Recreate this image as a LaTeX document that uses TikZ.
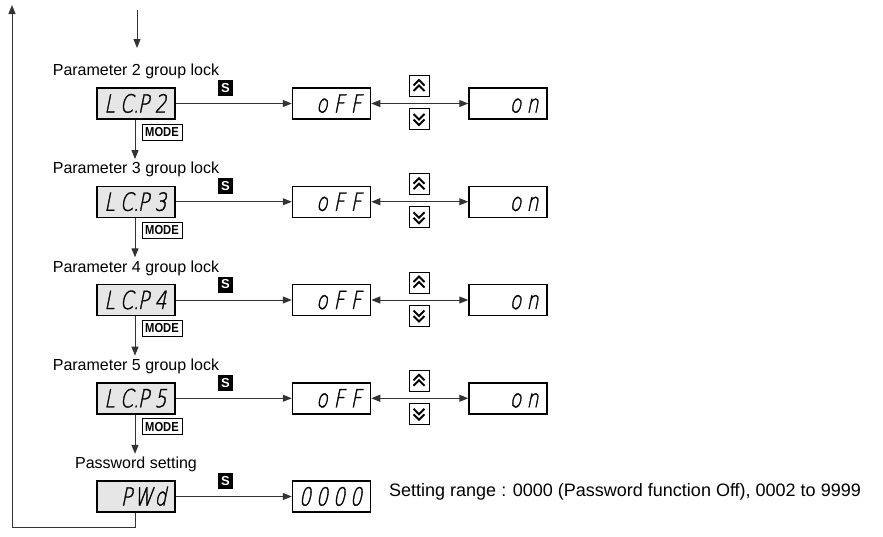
\documentclass[tikz,border=0pt]{standalone}
\usepackage{fontspec}
\setmainfont{Liberation Sans}
\newfontfamily\segfont[FakeSlant=0.2,FakeStretch=0.75,FakeBold=1.2]{DejaVuSans-ExtraLight.ttf}
\newfontfamily\modefont[FakeStretch=0.86]{Liberation Sans}
\usetikzlibrary{arrows.meta}
\definecolor{lcdgray}{HTML}{E6E6E6}
\definecolor{linec}{HTML}{333333}
\newcommand\dg[1]{\makebox[17pt][c]{#1}}
\newcommand\segrow[1]{\hbox to 78pt{\hfil\segfont\fontsize{25pt}{25pt}\selectfont#1\kern6pt}}
\newcommand\chevup[1]{\begin{scope}[shift={(#1.center)}]\draw[chev] (-5.5,-0.5)--(0,-6)--(5.5,-0.5) (-5.5,5)--(0,-0.5)--(5.5,5);\end{scope}}
\newcommand\chevdn[1]{\begin{scope}[shift={(#1.center)}]\draw[chev] (-5.5,0.5)--(0,6)--(5.5,0.5) (-5.5,-5)--(0,0.5)--(5.5,-5);\end{scope}}
\tikzset{
  lcd/.style={draw=black, line width=1.5pt, minimum width=78pt, minimum height=31pt, inner sep=0pt, text height=18pt, text depth=0pt},
  lcdg/.style={lcd, fill=lcdgray},
  lab/.style={font=\fontsize{16pt}{18pt}\selectfont, inner sep=3pt},
  sbtn/.style={fill=black, text=white, font=\bfseries\fontsize{13pt}{13pt}\selectfont, minimum width=15pt, minimum height=16pt, inner sep=0pt},
  modebox/.style={draw=black, line width=0.9pt, fill=white, font=\modefont\bfseries\fontsize{13pt}{13pt}\selectfont, minimum width=40pt, minimum height=16pt, inner sep=1pt},
  kbtn/.style={draw=black, line width=1pt, fill=white, minimum width=20pt, minimum height=21pt, inner sep=0pt},
  arr/.style={draw=linec, line width=1pt, -{Triangle[length=9pt,width=7pt]}},
  darr/.style={draw=linec, line width=1pt, {Triangle[length=9pt,width=7pt]}-{Triangle[length=9pt,width=7pt]}},
  chev/.style={line width=1.8pt, line join=miter}
}
\begin{document}
\begin{tikzpicture}[x=1pt,y=-1pt]
\useasboundingbox (0,0) rectangle (883,536);
% entry arrow
\coordinate (in0) at (137,10);
\coordinate (in1) at (137,48);
\draw[arr] (in0) -- (in1);
% parameter rows
\foreach \i/\p in {0/2,1/3,2/4,3/5} {
  \pgfmathsetmacro\c{103.5+98.25*\i}
  \node[lab] (lab\p) at (136,{\c-32}) {Parameter \p{} group lock};
  \node[lcdg] (lc\p) at (136,\c) {\segrow{\dg{L}\dg{C\rlap{.}}\dg{P}\dg{\p}}};
  \node[sbtn] (s\p) at (225.5,{\c-15.5}) {S};
  \node[lcd] (off\p) at (331.5,\c) {\segrow{\dg{o}\dg{F}\dg{F}}};
  \node[lcd] (on\p) at (508,\c) {\segrow{\dg{o}\dg{n}}};
  \node[kbtn] (up\p) at (419,{\c-17.5}) {};
  \node[kbtn] (dn\p) at (419,{\c+15.5}) {};
  \chevup{up\p}
  \chevdn{dn\p}
  \node[modebox] (mode\p) at (162,{\c+28.5}) {MODE};
  \draw[arr] (lc\p) -- (off\p);
  \draw[darr] (off\p) -- (on\p);
}
% password row
\node[lab] (labpw) at (136,464.5) {Password setting};
\node[lcdg] (pw) at (136,496.5) {\segrow{\dg{P}\dg{W}\dg{d}}};
\node[sbtn] (spw) at (225.5,481) {S};
\node[lcd] (pwv) at (331.5,496.5) {\segrow{\dg{0}\dg{0}\dg{0}\dg{0}}};
\node[anchor=base west, font=\fontsize{18pt}{20pt}\selectfont, inner sep=0pt] (range) at (389,496) {Setting range : 0000 (Password function Off), 0002 to 9999};
\draw[arr] (pw) -- (pwv);
% MODE arrows
\foreach \a/\b in {2/3,3/4,4/5,5/pw} {
  \draw[arr] ([xshift=-1pt]lc\a.south) -- ([xshift=-1pt]lab\b.north);
}
% feedback loop
\coordinate (fbB) at (12,527);
\coordinate (fbT) at (12,5);
\draw[arr] ([xshift=-1pt]pw.south) |- (fbB) -- (fbT);
\end{tikzpicture}
\end{document}
